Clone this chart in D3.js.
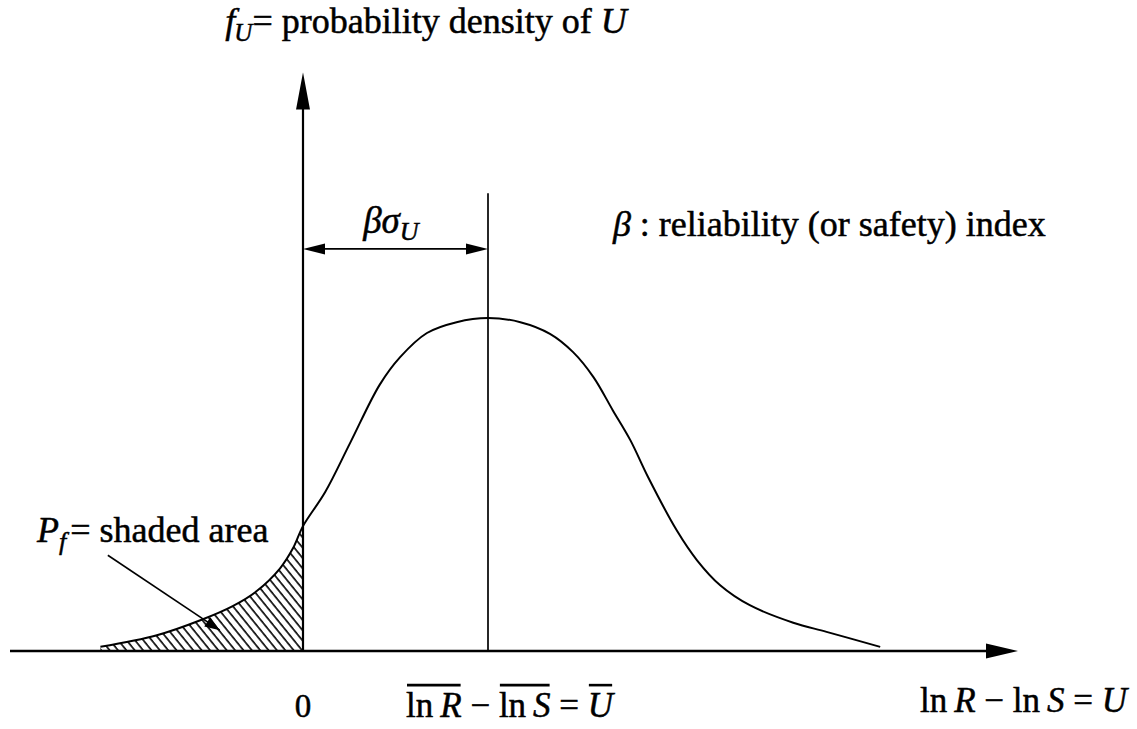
<!DOCTYPE html>
<html>
<head>
<meta charset="utf-8">
<script src="https://cdn.jsdelivr.net/npm/d3@7"></script>
<style>
  body { margin: 0; background: #fff; }
  text { font-family: "Times New Roman", "Liberation Serif", "DejaVu Serif", serif; fill: #000; stroke: #000; stroke-width: 0.5px; }
  .it { font-style: italic; }
</style>
</head>
<body>
<svg id="chart" width="1137" height="729"></svg>
<script>
// density curve of U (u in units of sigma_U, f = density)
var uVals = [-2.19, -1.58, -1.11, -0.76, -0.50, -0.25, -0.11, 0, 0.24, 0.51, 0.83, 1.05, 1.34, 1.66, 2.00,
             2.35, 2.67, 2.92, 3.14, 3.35, 3.54, 3.73, 4.04, 4.26, 4.51, 4.83, 5.30, 5.66, 6.24];
var fVals = [0.005, 0.019, 0.037, 0.054, 0.072, 0.099, 0.123, 0.150, 0.191, 0.250, 0.320, 0.353, 0.382, 0.395, 0.400,
             0.395, 0.381, 0.359, 0.329, 0.289, 0.253, 0.209, 0.145, 0.109, 0.079, 0.055, 0.034, 0.023, 0.005];
var zeroU = 0;
var meanU = 2.0;       // beta * sigma_U
var uAxisMax = 7.73;
var fAxisMax = 0.695;
var meanLineTop = 0.55;

var svg = d3.select("#chart");

var x = d3.scaleLinear().domain([0, meanU]).range([303, 488]);
var y = d3.scaleLinear().domain([0, 0.4]).range([651, 318]);

var pts = uVals.map(function (u, i) { return { u: u, f: fVals[i] }; });

// hatch pattern for failure area
var defs = svg.append("defs");
defs.append("pattern")
  .attr("id", "hatch")
  .attr("patternUnits", "userSpaceOnUse")
  .attr("width", 6.5)
  .attr("height", 10)
  .attr("patternTransform", "rotate(-39)")
  .append("line")
  .attr("x1", 1).attr("y1", 0)
  .attr("x2", 1).attr("y2", 10)
  .attr("stroke", "#000")
  .attr("stroke-width", 1.6);

defs.append("clipPath")
  .attr("id", "failClip")
  .append("rect")
  .attr("x", 0).attr("y", 0)
  .attr("width", x(zeroU)).attr("height", y(0));

function arrowHead(g, tx, ty, ang, len, hw) {
  // ang: direction the arrow points (radians)
  var c = Math.cos(ang), s = Math.sin(ang);
  var bx = tx - len * c, by = ty - len * s;
  g.append("path")
    .attr("d", "M" + tx + "," + ty +
      "L" + (bx - hw * s) + "," + (by + hw * c) +
      "L" + (bx + hw * s) + "," + (by - hw * c) + "Z")
    .attr("fill", "#000");
}

var curve = d3.curveCatmullRom.alpha(0.5);

// shaded area P_f
var area = d3.area()
  .x(function (d) { return x(d.u); })
  .y0(y(0))
  .y1(function (d) { return y(d.f); })
  .curve(curve);

svg.append("path")
  .datum(pts)
  .attr("d", area)
  .attr("clip-path", "url(#failClip)")
  .attr("fill", "url(#hatch)");

// density curve
var line = d3.line()
  .x(function (d) { return x(d.u); })
  .y(function (d) { return y(d.f); })
  .curve(curve);

svg.append("path")
  .datum(pts)
  .attr("d", line)
  .attr("fill", "none")
  .attr("stroke", "#000")
  .attr("stroke-width", 2);

// axes
var axes = svg.append("g");
axes.append("line")
  .attr("x1", 10).attr("x2", x(uAxisMax) - 20)
  .attr("y1", y(0)).attr("y2", y(0))
  .attr("stroke", "#000").attr("stroke-width", 2.4);
arrowHead(axes, x(uAxisMax), y(0), 0, 32, 7.5);

axes.append("line")
  .attr("x1", x(zeroU)).attr("x2", x(zeroU))
  .attr("y1", y(0)).attr("y2", y(fAxisMax) + 20)
  .attr("stroke", "#000").attr("stroke-width", 2.2);
arrowHead(axes, x(zeroU), y(fAxisMax), -Math.PI / 2, 37, 7);

// mean line
svg.append("line")
  .attr("x1", x(meanU)).attr("x2", x(meanU))
  .attr("y1", y(0)).attr("y2", y(meanLineTop))
  .attr("stroke", "#000").attr("stroke-width", 1.7);

// beta sigma_U dimension
var dimY = y(0.483);
svg.append("line")
  .attr("x1", x(zeroU) + 10).attr("x2", x(meanU) - 10)
  .attr("y1", dimY).attr("y2", dimY)
  .attr("stroke", "#000").attr("stroke-width", 1.8);
arrowHead(svg, x(zeroU), dimY, Math.PI, 22, 5.5);
arrowHead(svg, x(meanU), dimY, 0, 22, 5.5);

var bs = svg.append("text")
  .attr("x", x(0.65)).attr("y", y(0.502))
  .style("font-size", "37px");
bs.append("tspan").attr("class", "it").text("\u03B2\u03C3");
bs.append("tspan").attr("class", "it").attr("dy", 7).style("font-size", "26px").text("U");

// leader arrow to shaded area
var lx1 = x(-2.11), ly1 = y(0.115), lx2 = x(-0.90), ly2 = y(0.025);
svg.append("line")
  .attr("x1", lx1).attr("y1", ly1).attr("x2", lx2).attr("y2", ly2)
  .attr("stroke", "#000").attr("stroke-width", 1.6);
arrowHead(svg, lx2, ly2, Math.atan2(ly2 - ly1, lx2 - lx1), 15, 5.5);

// labels
var t1 = svg.append("text")
  .attr("x", x(-0.84)).attr("y", y(0.742))
  .style("font-size", "36px");
t1.append("tspan").attr("class", "it").text("f");
t1.append("tspan").attr("class", "it").attr("dy", 8).attr("dx", -1).style("font-size", "25px").text("U");
t1.append("tspan").attr("dy", -8).text("= probability density of ");
t1.append("tspan").attr("class", "it").text("U");

var t2 = svg.append("text")
  .attr("x", x(3.35)).attr("y", y(0.499))
  .style("font-size", "36px");
t2.append("tspan").attr("class", "it").text("\u03B2");
t2.append("tspan").text(" : reliability (or safety) index");

var t3 = svg.append("text")
  .attr("x", x(-2.875)).attr("y", y(0.131))
  .style("font-size", "36px");
t3.append("tspan").attr("class", "it").text("P");
t3.append("tspan").attr("class", "it").attr("dy", 8).style("font-size", "26px").text("f");
t3.append("tspan").attr("dy", -8).attr("dx", 4).text("= shaded area");

svg.append("text")
  .attr("x", x(zeroU)).attr("y", y(-0.079))
  .attr("text-anchor", "middle")
  .style("font-size", "33px")
  .text("0");

// mean label with overlines
var ml = svg.append("text")
  .attr("x", x(meanU) - 82).attr("y", y(-0.079))
  .style("font-size", "35px");
var mparts = [["ln\u2009", ""], ["R", "it"], [" \u2212 ", ""], ["ln\u2009", ""], ["S", "it"], [" = ", ""], ["U", "it"]];
mparts.forEach(function (p) { ml.append("tspan").attr("class", p[1]).text(p[0]); });
var mnode = ml.node();
var bars = [[0, 3], [7, 10], [14, 14]];  // char ranges to overline
bars.forEach(function (b) {
  var x0 = mnode.getStartPositionOfChar(b[0]).x;
  var x1 = mnode.getEndPositionOfChar(b[1]).x;
  svg.append("line")
    .attr("x1", x0 + 1).attr("x2", x1 - 1)
    .attr("y1", y(-0.041)).attr("y2", y(-0.041))
    .attr("stroke", "#000").attr("stroke-width", 2.6);
});

var rl = svg.append("text")
  .attr("x", x(6.67)).attr("y", y(-0.073))
  .style("font-size", "35px");
mparts.forEach(function (p) { rl.append("tspan").attr("class", p[1]).text(p[0]); });
</script>
</body>
</html>
